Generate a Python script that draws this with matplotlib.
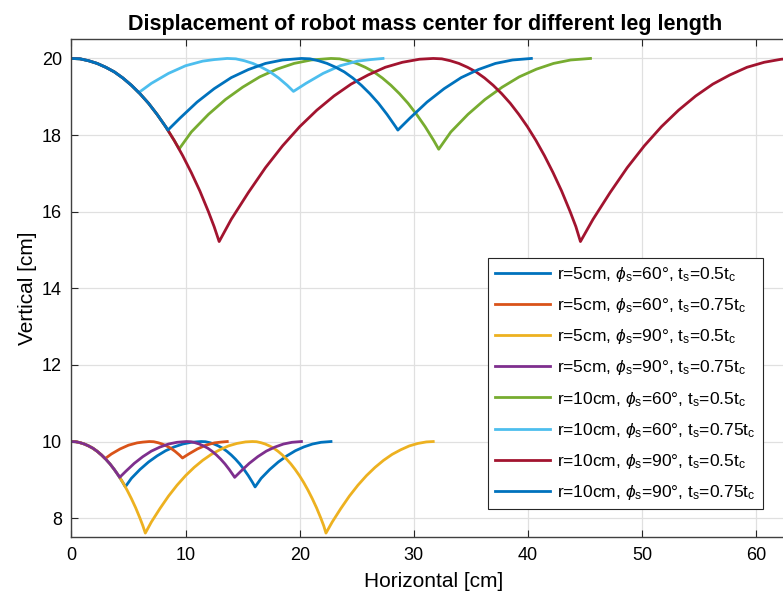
import matplotlib
matplotlib.use('Agg')
import matplotlib.pyplot as plt

plt.rcParams['font.family'] = ['Liberation Sans', 'DejaVu Sans']
plt.rcParams['mathtext.fontset'] = 'custom'
plt.rcParams['mathtext.rm'] = 'Liberation Sans'
plt.rcParams['mathtext.it'] = 'Liberation Sans:italic'

# r=5cm, phi=60, ts=0.5tc
x_r5_60_05 = [0, 0.375, 0.75, 1.125, 1.5, 1.875, 2.25, 2.625, 3, 3.375, 3.75, 4.125, 4.5, 4.72,
              5.25, 6, 6.75, 7.5, 8.25, 9, 9.75, 10.5, 11.37,
              11.745, 12.12, 12.495, 12.87, 13.245, 13.62, 13.995, 14.37, 14.745, 15.12, 15.495, 15.87, 16.09,
              16.62, 17.37, 18.12, 18.87, 19.62, 20.37, 21.12, 21.87, 22.74]
y_r5_60_05 = [10, 9.995, 9.97, 9.935, 9.885, 9.825, 9.745, 9.65, 9.54, 9.415, 9.27, 9.11, 8.93, 8.82,
              9.04, 9.27, 9.465, 9.625, 9.76, 9.86, 9.935, 9.98, 10,
              9.995, 9.97, 9.935, 9.885, 9.825, 9.745, 9.65, 9.54, 9.415, 9.27, 9.11, 8.93, 8.815,
              9.04, 9.27, 9.465, 9.625, 9.76, 9.86, 9.935, 9.98, 10]
# r=5cm, phi=60, ts=0.75tc
x_r5_60_075 = [0, 0.375, 0.75, 1.125, 1.5, 1.875, 2.25, 2.625, 2.95,
               3.5, 4.25, 5, 5.75, 6.25, 6.825,
               7.2, 7.575, 7.95, 8.325, 8.7, 9.075, 9.45, 9.725,
               10.275, 11.025, 11.775, 12.525, 13.1, 13.65]
y_r5_60_075 = [10, 9.995, 9.97, 9.935, 9.885, 9.825, 9.745, 9.65, 9.555,
               9.675, 9.805, 9.905, 9.965, 9.985, 10,
               9.995, 9.97, 9.935, 9.885, 9.825, 9.745, 9.65, 9.57,
               9.675, 9.805, 9.905, 9.965, 9.985, 10]
# r=5cm, phi=90, ts=0.5tc
x_r5_90_05 = [0, 0.375, 0.75, 1.125, 1.5, 1.875, 2.25, 2.625, 3, 3.375, 3.75, 4.125, 4.5, 4.875, 5.25, 5.625, 6, 6.25, 6.47,
              7, 7.75, 8.5, 9.25, 10, 10.75, 11.5, 12.25, 13, 13.75, 14.5, 15.25, 15.85,
              16.225, 16.6, 16.975, 17.35, 17.725, 18.1, 18.475, 18.85, 19.225, 19.6, 19.975, 20.35, 20.725, 21.1,
              21.475, 21.85, 22.1, 22.3,
              22.85, 23.6, 24.35, 25.1, 25.85, 26.6, 27.35, 28.1, 28.85, 29.6, 30.35, 31.1, 31.7]
y_r5_90_05 = [10, 9.995, 9.97, 9.935, 9.885, 9.825, 9.745, 9.65, 9.54, 9.415, 9.27, 9.11, 8.93, 8.73, 8.51, 8.27, 8.0, 7.805, 7.61,
              7.9, 8.25, 8.575, 8.86, 9.11, 9.325, 9.51, 9.665, 9.785, 9.885, 9.95, 9.99, 10,
              9.995, 9.97, 9.935, 9.885, 9.825, 9.745, 9.65, 9.54, 9.415, 9.27, 9.11, 8.93, 8.73, 8.51,
              8.27, 8.0, 7.805, 7.61,
              7.9, 8.25, 8.575, 8.86, 9.11, 9.325, 9.51, 9.665, 9.785, 9.885, 9.95, 9.99, 10]
# r=5cm, phi=90, ts=0.75tc
x_r5_90_075 = [0, 0.375, 0.75, 1.125, 1.5, 1.875, 2.25, 2.625, 3, 3.375, 3.75, 4.125, 4.225,
               4.75, 5.5, 6.25, 7, 7.75, 8.5, 9.25, 10.075,
               10.45, 10.825, 11.2, 11.575, 11.95, 12.325, 12.7, 13.075, 13.45, 13.825, 14.2, 14.3,
               14.825, 15.575, 16.325, 17.075, 17.825, 18.575, 19.325, 20.15]
y_r5_90_075 = [10, 9.995, 9.97, 9.935, 9.885, 9.825, 9.745, 9.65, 9.54, 9.415, 9.27, 9.11, 9.065,
               9.22, 9.43, 9.605, 9.75, 9.855, 9.935, 9.98, 10,
               9.995, 9.97, 9.935, 9.885, 9.825, 9.745, 9.65, 9.54, 9.415, 9.27, 9.11, 9.065,
               9.22, 9.43, 9.605, 9.75, 9.855, 9.935, 9.98, 10]
# r=10cm, phi=60, ts=0.5tc
x_r10_60_05 = [0, 0.75, 1.5, 2.25, 3, 3.75, 4.5, 5.25, 6, 6.75, 7.5, 8.25, 9, 9.44,
               10.5, 12, 13.5, 15, 16.5, 18, 19.5, 21, 22.74,
               23.49, 24.24, 24.99, 25.74, 26.49, 27.24, 27.99, 28.74, 29.49, 30.24, 30.99, 31.74, 32.18,
               33.24, 34.74, 36.24, 37.74, 39.24, 40.74, 42.24, 43.74, 45.48]
y_r10_60_05 = [20, 19.99, 19.94, 19.87, 19.77, 19.65, 19.49, 19.3, 19.08, 18.83, 18.54, 18.22, 17.86, 17.64,
               18.08, 18.54, 18.93, 19.25, 19.52, 19.72, 19.87, 19.96, 20,
               19.99, 19.94, 19.87, 19.77, 19.65, 19.49, 19.3, 19.08, 18.83, 18.54, 18.22, 17.86, 17.63,
               18.08, 18.54, 18.93, 19.25, 19.52, 19.72, 19.87, 19.96, 20]
# r=10cm, phi=60, ts=0.75tc
x_r10_60_075 = [0, 0.75, 1.5, 2.25, 3, 3.75, 4.5, 5.25, 5.9,
                7, 8.5, 10, 11.5, 12.5, 13.65,
                14.4, 15.15, 15.9, 16.65, 17.4, 18.15, 18.9, 19.45,
                20.55, 22.05, 23.55, 25.05, 26.2, 27.3]
y_r10_60_075 = [20, 19.99, 19.94, 19.87, 19.77, 19.65, 19.49, 19.3, 19.11,
                19.35, 19.61, 19.81, 19.93, 19.97, 20,
                19.99, 19.94, 19.87, 19.77, 19.65, 19.49, 19.3, 19.14,
                19.35, 19.61, 19.81, 19.93, 19.97, 20]
# r=10cm, phi=90, ts=0.5tc
x_r10_90_05 = [0, 0.75, 1.5, 2.25, 3, 3.75, 4.5, 5.25, 6, 6.75, 7.5, 8.25, 9, 9.75, 10.5, 11.25, 12, 12.5, 12.94,
               14, 15.5, 17, 18.5, 20, 21.5, 23, 24.5, 26, 27.5, 29, 30.5, 31.7,
               32.45, 33.2, 33.95, 34.7, 35.45, 36.2, 36.95, 37.7, 38.45, 39.2, 39.95, 40.7, 41.45, 42.2,
               42.95, 43.7, 44.2, 44.6,
               45.7, 47.2, 48.7, 50.2, 51.7, 53.2, 54.7, 56.2, 57.7, 59.2, 60.7, 62.2, 63.4]
y_r10_90_05 = [20, 19.99, 19.94, 19.87, 19.77, 19.65, 19.49, 19.3, 19.08, 18.83, 18.54, 18.22, 17.86, 17.46, 17.02, 16.54, 16.0, 15.61, 15.22,
               15.8, 16.5, 17.15, 17.72, 18.22, 18.65, 19.02, 19.33, 19.57, 19.77, 19.9, 19.98, 20,
               19.99, 19.94, 19.87, 19.77, 19.65, 19.49, 19.3, 19.08, 18.83, 18.54, 18.22, 17.86, 17.46, 17.02,
               16.54, 16.0, 15.61, 15.22,
               15.8, 16.5, 17.15, 17.72, 18.22, 18.65, 19.02, 19.33, 19.57, 19.77, 19.9, 19.98, 20]
# r=10cm, phi=90, ts=0.75tc
x_r10_90_075 = [0, 0.75, 1.5, 2.25, 3, 3.75, 4.5, 5.25, 6, 6.75, 7.5, 8.25, 8.45,
                9.5, 11, 12.5, 14, 15.5, 17, 18.5, 20.15,
                20.9, 21.65, 22.4, 23.15, 23.9, 24.65, 25.4, 26.15, 26.9, 27.65, 28.4, 28.6,
                29.65, 31.15, 32.65, 34.15, 35.65, 37.15, 38.65, 40.3]
y_r10_90_075 = [20, 19.99, 19.94, 19.87, 19.77, 19.65, 19.49, 19.3, 19.08, 18.83, 18.54, 18.22, 18.13,
                18.44, 18.86, 19.21, 19.5, 19.71, 19.87, 19.96, 20,
                19.99, 19.94, 19.87, 19.77, 19.65, 19.49, 19.3, 19.08, 18.83, 18.54, 18.22, 18.13,
                18.44, 18.86, 19.21, 19.5, 19.71, 19.87, 19.96, 20]

labels = [r'r=5cm, $\phi_\mathrm{s}$=60°, t$_\mathrm{s}$=0.5t$_\mathrm{c}$',
          r'r=5cm, $\phi_\mathrm{s}$=60°, t$_\mathrm{s}$=0.75t$_\mathrm{c}$',
          r'r=5cm, $\phi_\mathrm{s}$=90°, t$_\mathrm{s}$=0.5t$_\mathrm{c}$',
          r'r=5cm, $\phi_\mathrm{s}$=90°, t$_\mathrm{s}$=0.75t$_\mathrm{c}$',
          r'r=10cm, $\phi_\mathrm{s}$=60°, t$_\mathrm{s}$=0.5t$_\mathrm{c}$',
          r'r=10cm, $\phi_\mathrm{s}$=60°, t$_\mathrm{s}$=0.75t$_\mathrm{c}$',
          r'r=10cm, $\phi_\mathrm{s}$=90°, t$_\mathrm{s}$=0.5t$_\mathrm{c}$',
          r'r=10cm, $\phi_\mathrm{s}$=90°, t$_\mathrm{s}$=0.75t$_\mathrm{c}$']
colors = ['#0072BD', '#D95319', '#EDB120', '#7E2F8E', '#77AC30', '#4DBEEE', '#A2142F', '#0072BD']

xs = [x_r5_60_05, x_r5_60_075, x_r5_90_05, x_r5_90_075, x_r10_60_05, x_r10_60_075, x_r10_90_05, x_r10_90_075]
ys = [y_r5_60_05, y_r5_60_075, y_r5_90_05, y_r5_90_075, y_r10_60_05, y_r10_60_075, y_r10_90_05, y_r10_90_075]

fig = plt.figure(figsize=(7.83, 6), dpi=100)
# the axes run a little past the right edge of the picture, like the cropped original
ax = fig.add_axes([0.0913, 0.1045, 0.924, 0.83])

for x, y, c, lab in zip(xs, ys, colors, labels):
    ax.plot(x, y, color=c, lw=2, label=lab)

ax.set_xlim(0, max(x_r10_90_05))
ax.set_ylim(7.5, 20.5)
ax.set_xticks(range(0, 61, 10))
ax.set_yticks(range(8, 21, 2))
ax.grid(True, color='#e0e0e0', lw=0.9)
ax.set_axisbelow(True)
ax.tick_params(direction='in', top=True, right=False, length=5, labelsize=13, color='#262626', pad=7)
for s in ax.spines.values():
    s.set_color('#404040')
    s.set_linewidth(1)

ax.set_xlabel('Horizontal [cm]', fontsize=15, labelpad=6)
ax.set_ylabel('Vertical [cm]', fontsize=15, labelpad=3)
ax.set_title('Displacement of robot mass center for different leg length', fontsize=15.5, fontweight='bold', pad=7)
ax.title.set_x(0.489)

leg = ax.legend(loc='lower right', bbox_to_anchor=(0.9554, 0.057), fontsize=12.5, handlelength=3.2,
                handletextpad=0.4, labelspacing=0.7, borderaxespad=0, fancybox=False,
                edgecolor='#262626', framealpha=1, borderpad=0.4)
leg.get_frame().set_linewidth(0.8)

fig.savefig('out.png', dpi=100)
